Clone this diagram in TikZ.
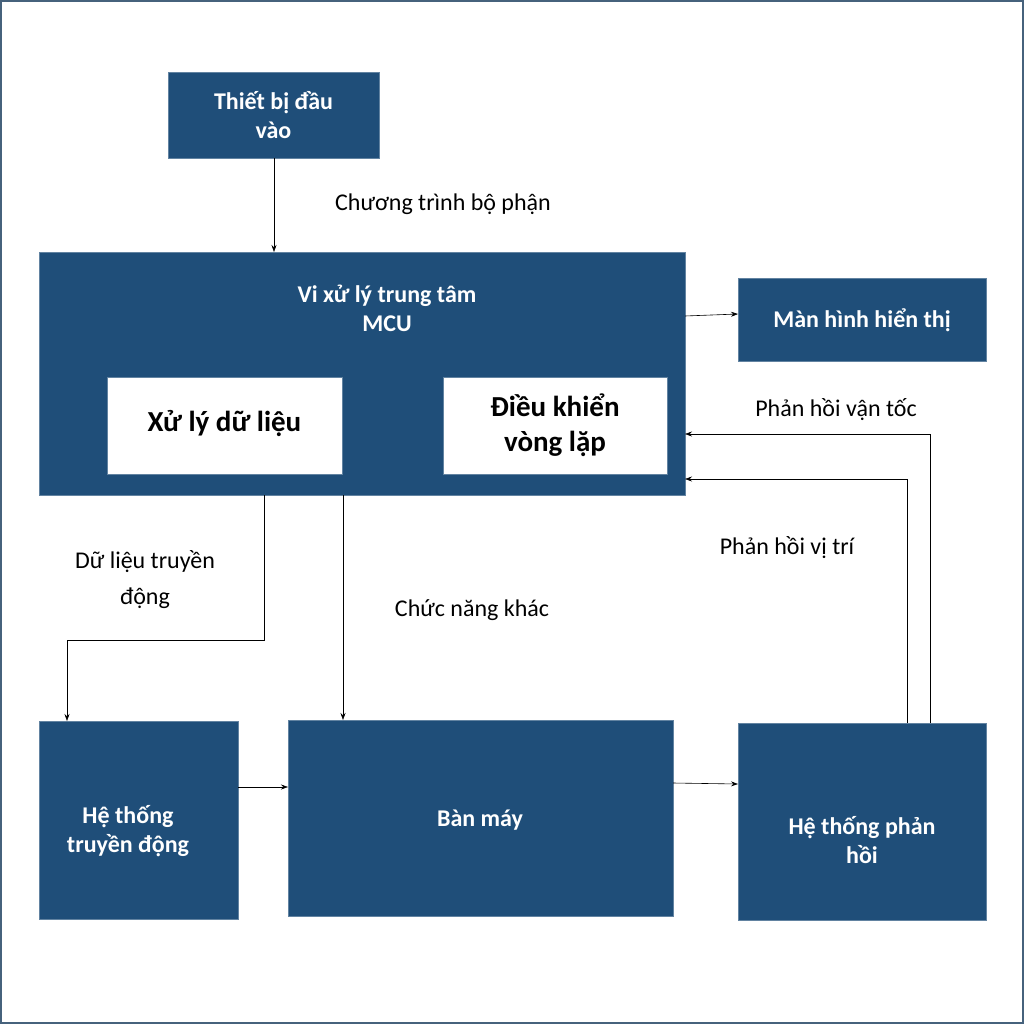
\documentclass[tikz,border=0pt]{standalone}
\usepackage{fontspec}
\setmainfont{Carlito}
\usetikzlibrary{arrows.meta}
\definecolor{bx}{HTML}{1F4E79}
\begin{document}
\begin{tikzpicture}[x=1pt,y=-1pt,
  blk/.style={fill=bx,draw=bx!70!white,line width=0.8pt},
  wt/.style={text=white,font=\fontsize{24}{29}\selectfont\bfseries,align=center},
  wb/.style={fill=white,draw=bx!70!white},
  lbl/.style={font=\fontsize{24}{36}\selectfont,align=center},
  arr/.style={-{Stealth[length=7pt,width=5pt]},line width=0.6pt}]
\useasboundingbox (0,0) rectangle (1024,1024);
\draw[draw=bx!60!gray,line width=1.2pt] (1,1) rectangle (1023,1023);
\draw[blk] (168,72) rectangle (379,158); \node[wt] (in) at (273.5,115) {Thiết bị đầu\\vào};
\coordinate (inb) at (274,158);
\draw[blk] (39,252) rectangle (685,495); \node[wt] (mcu) at (387,308) {Vi xử lý trung tâm\\MCU};
\draw[wb] (107,377) rectangle (342,474); \node[font=\fontsize{29}{35}\selectfont\bfseries] (xl) at (224.5,424) {Xử lý dữ liệu};
\draw[wb] (443,377) rectangle (667,474); \node[font=\fontsize{29}{35}\selectfont\bfseries,align=center] (dk) at (555,425) {Điều khiển\\vòng lặp};
\draw[blk] (738,278) rectangle (986,361); \node[wt] (mh) at (862,320) {Màn hình hiển thị};
\draw[blk] (39,721) rectangle (238,919); \node[wt] (td) at (128,831) {Hệ thống\\truyền động};
\draw[blk] (288,720) rectangle (673,916); \node[wt] (bm) at (480,820) {Bàn máy};
\draw[blk] (738,723) rectangle (986,920); \node[wt] (ph) at (862,840) {Hệ thống phản\\hồi};
\coordinate (mt) at (274,252);
\draw[arr] (inb) -- (mt);
\node[lbl] (l1) at (443,204) {Chương trình bộ phận};
\coordinate (m1) at (685,316); \coordinate (m2) at (738,314);
\draw[arr] (m1) -- (m2);
\coordinate (a1) at (264,495); \coordinate (a2) at (67,721);
\draw[arr] (a1) -- (264,640) -- (67,640) -- (a2);
\node[lbl,align=center] (l2) at (145,580) {Dữ liệu truyền\\động};
\coordinate (b1) at (343,495); \coordinate (b2) at (343,720);
\draw[arr] (b1) -- (b2);
\node[lbl] (l3) at (472,610) {Chức năng khác};
\coordinate (c1) at (238,787); \coordinate (c2) at (288,787);
\draw[arr] (c1) -- (c2);
\coordinate (d1) at (673,783); \coordinate (d2) at (738,784);
\draw[arr] (d1) -- (d2);
\coordinate (e1) at (930,723); \coordinate (e2) at (685,434);
\draw[arr] (e1) -- (930,434) -- (e2);
\node[lbl] (l4) at (836,410) {Phản hồi vận tốc};
\coordinate (f1) at (907,723); \coordinate (f2) at (685,479);
\draw[arr] (f1) -- (907,479) -- (f2);
\node[lbl] (l5) at (787,548) {Phản hồi vị trí};
\end{tikzpicture}
\end{document}
